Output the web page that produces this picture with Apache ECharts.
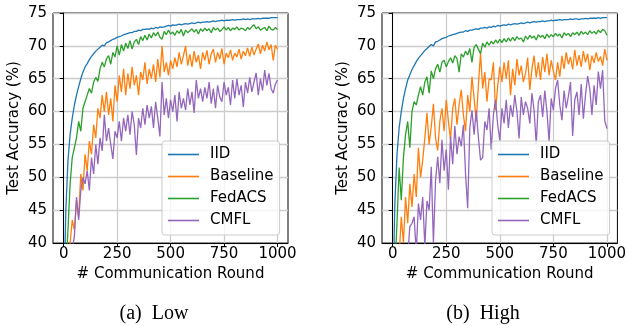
<!DOCTYPE html>
<html>
<head>
<meta charset="utf-8">
<script src="https://cdn.jsdelivr.net/npm/echarts@6/dist/echarts.min.js"></script>
<style>html,body{margin:0;padding:0;background:#fff;}#c{width:629px;height:326px;}</style>
</head>
<body>
<div id="c"></div>
<script>
var rounds = [0,10,20,30,40,50,60,70,80,90,100,110,120,130,140,150,160,170,180,190,200,210,220,230,240,250,260,270,280,290,300,310,320,330,340,350,360,370,380,390,400,410,420,430,440,450,460,470,480,490,500,510,520,530,540,550,560,570,580,590,600,610,620,630,640,650,660,670,680,690,700,710,720,730,740,750,760,770,780,790,800,810,820,830,840,850,860,870,880,890,900,910,920,930,940,950,960,970,980,990,1000];
var xTicks = [0,250,500,750,1000];
var seriesNames = ['IID','Baseline','FedACS','CMFL'];
var captions = ['(a)  Low','(b)  High'];

// Low
var iidLow = [30,45,52.5,56.5,59,61,62.5,63.8,65,66,66.8,67.3,67.9,68.4,68.8,69.2,69.5,69.8,70.1,70.0,70.5,70.6,70.8,71.0,71.1,71.3,71.4,71.5,71.7,71.8,71.9,72.0,72.0,72.2,72.2,72.4,72.3,72.5,72.5,72.6,72.5,72.7,72.6,72.8,72.7,72.9,72.8,72.9,73.0,73.1,73.0,73.2,73.1,73.2,73.3,73.2,73.3,73.4,73.3,73.4,73.5,73.4,73.5,73.6,73.5,73.6,73.6,73.7,73.6,73.7,73.8,73.7,73.8,73.8,73.9,73.8,73.9,73.9,73.9,74.0,73.9,74.0,74.0,74.0,74.1,74.0,74.1,74.0,74.1,74.1,74.1,74.2,74.1,74.2,74.2,74.2,74.2,74.3,74.3,74.3,74.3];
var baseLow = [25,30,36,40,43.5,42,46.5,44,50.5,48,53.5,51,55.5,53.5,58,56,60.5,59,62.5,60,63,59.5,62,58.5,64,61.5,65.5,63,66.5,62.5,65.8,63.5,66.8,64,65.5,62.5,66,64.8,67.5,64.2,66.5,65,67.2,64.5,68,65.2,70,66,67.5,65.5,67.8,66.5,68.2,66.8,69,67.2,68.5,70,67,68.7,66.8,69.2,67.5,68.6,66.5,69,67.8,69.3,67.2,68.8,69.5,67.5,69,68,69.6,67.2,68.9,68.2,69.4,67.8,68.9,68.3,69.5,68,69.2,68.5,69.7,68.4,69.8,68.6,69.5,70.3,68.8,70.1,69.2,70.6,69.4,70.2,67.8,70.1,69.5];
var fedLow = [30,36,42,49,53,54.5,56,58.5,57,60.5,61.5,62.5,63.5,62.8,64.5,65.2,64.6,66.5,67.5,66.8,68,68.5,67.2,69.0,68.3,70.0,68.6,70.2,69.2,70.4,69.6,70.8,69.5,70.6,71.0,70.2,71.4,70.8,71.6,70.9,71.8,71.2,72.0,71.5,72.1,71.3,71.0,72.2,71.7,72.4,71.8,72.1,71.6,72.3,71.9,72.5,71.5,72.4,72.0,72.3,72.6,72.1,72.5,71.8,72.6,72.2,72.7,72.3,72.6,72.0,72.8,72.4,72.7,72.2,72.5,72.9,72.4,72.8,72.3,72.7,72.5,72.9,72.4,72.7,72.6,72.3,72.8,72.5,72.9,73.2,72.6,72.9,72.4,72.6,72.8,72.3,73.0,72.5,72.4,72.8,72.5];
var cmflLow = [25,28,32,36,39,41,47,43.5,48,50,49,51,48,53,50.5,55,52,56,54,59.5,55.5,57.5,55,52.8,57,56,58.5,55.5,59,57,59.5,56.5,60,58,53.4,59,57.5,60.5,58,61,59,60.8,57.5,61.5,59,56.2,64.5,59.5,62,59,61.8,60,62.5,58.5,63,60.5,62,60.2,63.5,61,63,59.8,64.8,62,63.5,61.5,63.7,62,64.5,61.2,63.5,60.5,64,62.2,61.5,64.5,62.5,63.7,61,64.8,62,65,62.5,64,60.7,64.5,62.8,65.2,63,64.5,65.9,62.5,65,63.2,66.3,64,65.8,63.5,62.8,64.2,64.8];

// High
var iidHigh = [30,46,53.5,57.5,60,62,63.5,64.8,65.6,66.4,67.0,67.6,68.1,68.5,68.9,69.3,69.6,69.9,70.2,70.0,70.6,70.7,70.9,71.1,71.2,71.3,71.5,71.6,71.7,71.8,71.9,72.0,72.1,72.1,72.3,72.2,72.4,72.4,72.5,72.6,72.5,72.7,72.7,72.8,72.7,72.9,72.8,73.0,72.9,73.1,73.0,73.1,73.2,73.1,73.3,73.2,73.3,73.4,73.3,73.4,73.5,73.4,73.5,73.6,73.5,73.6,73.7,73.6,73.7,73.7,73.8,73.7,73.8,73.8,73.9,73.8,73.9,73.9,74.0,73.9,74.0,74.0,74.0,74.1,74.0,74.1,74.1,74.0,74.1,74.1,74.2,74.1,74.2,74.2,74.2,74.2,74.3,74.2,74.3,74.3,74.3];
var baseHigh = [22,27,33,38,44,40,47,43,49,45.5,50.5,47,54.5,50,52.6,56,59.8,55,57.7,61.2,56,54.1,58.5,60.5,57,61.8,58.5,55.7,60.5,62,58,61,63.3,59.5,57,62.5,60,65.3,62,58.5,64,68.9,63.5,66,61.5,65,64.8,67.5,60.2,63.8,66.8,64.5,67.5,65,67.8,62.5,66.5,64,68,65.5,67,64.5,65.8,68.2,63.3,66.5,68.5,65.2,67.5,64.8,68.3,66,68.8,65.5,67.8,66.2,64.8,67.5,65.3,68.5,66.5,69,67.2,68.3,66.4,69.4,67,68.6,66.8,69.2,67.5,68.8,66.3,68.5,67.4,69,67.6,68.4,67,69.5,67.8];
var fedHigh = [28,36,43,51.5,46.5,53,56.5,58.5,54.5,60,61.5,61,62.5,63.8,62.5,64.5,65.3,62.8,66.2,65,66.5,67.2,66,67.5,67.8,66.8,67.6,68.2,67.4,68.5,68.1,66,68.8,68.3,69.2,68.6,69.6,67.5,69.8,70.2,69.5,68.8,70.4,69.8,70.6,70.1,70.7,70.3,70.9,70.4,71.0,70.5,71.1,70.6,71.2,70.7,71.3,70.8,71.4,71.0,71.2,70.6,71.5,71.0,71.6,71.2,71.5,70.9,71.7,71.3,71.6,71.1,71.8,71.3,71.7,71.4,71.9,71.5,71.8,71.2,72.0,71.6,71.9,71.4,72.0,71.7,72.1,71.6,72.2,71.8,72.1,71.7,72.3,71.9,72.2,71.8,72.4,72.0,72.5,72.3,71.6];
var cmflHigh = [20,24,28,32,35,37,39,38,42.5,43,44,38.5,46,43.5,47,39.5,46.4,45,51.6,40,49.5,53.1,49.1,55.7,51,54.2,48.1,56.2,52,57.8,53.5,56.2,54.7,58,50.5,45.3,57.5,60.2,56.5,60.2,56.1,52.6,53,58.5,57.2,60.5,54.2,59.5,61.8,58,55.6,60.5,58.2,61.8,57.5,61,59.2,62.5,60,55.9,62.2,59.5,61.5,60.5,58.2,62.8,60.2,55,61.5,62.5,59.2,63.2,60,55.4,62,60.2,63.5,64.8,61,58.7,63.2,60.5,62.3,64.5,56.3,61.8,63,59.5,64.2,58.9,62.5,65.4,63.5,59.5,64,61,66.1,63.5,66.3,58.6,57.4];

var colors = ['#1f77b4','#ff7f0e','#2ca02c','#9467bd'];
var FONT = 'DejaVu Sans';
var FS = 15;

function pairs(vals){ return rounds.map(function(r,i){ return [r, vals[i]]; }); }

var grids = [
  {left:53, top:13, width:235, height:230},
  {left:382, top:13, width:236, height:230}
];

function xAx(gi){
  return {
    type:'value', gridIndex:gi, min:-50, max:1049,
    name:'# Communication Round', nameLocation:'middle', nameGap:20,
    nameTextStyle:{fontFamily:FONT, fontSize:FS, color:'#000'},
    axisLine:{show:true, lineStyle:{color:'#000', width:1}},
    axisTick:{show:true, inside:false, length:4, customValues:xTicks, lineStyle:{color:'#000', width:1}},
    axisLabel:{customValues:xTicks, fontFamily:FONT, fontSize:FS, color:'#000', margin:4,
      formatter:function(v){ return String(v); }},
    splitLine:{show:true, lineStyle:{color:'#cccccc', width:1.3}}
  };
}
function yAx(gi){
  return {
    type:'value', gridIndex:gi, min:40, max:75, interval:5,
    name:'Test Accuracy (%)', nameLocation:'middle', nameGap:31, nameRotate:90,
    nameTextStyle:{fontFamily:FONT, fontSize:FS, color:'#000'},
    axisLine:{show:true, lineStyle:{color:'#000', width:1}},
    axisTick:{show:true, inside:false, length:4, lineStyle:{color:'#000', width:1}},
    axisLabel:{fontFamily:FONT, fontSize:FS, color:'#000', margin:6},
    splitLine:{show:true, lineStyle:{color:'#cccccc', width:1.3}}
  };
}
function legendAt(left){
  return {
    left:left, top:141, orient:'vertical', itemGap:7, itemWidth:31, itemHeight:1.6, icon:'rect',
    padding:[6,6,7,6], backgroundColor:'rgba(255,255,255,0.8)', borderColor:'#cccccc', borderWidth:1, borderRadius:3,
    data:seriesNames, selectedMode:false, z:10,
    textStyle:{fontFamily:FONT, fontSize:FS, color:'#000', lineHeight:15, padding:[0,0,0,6]}
  };
}
function mk(name, vals, gi, ci){
  return {
    name:name, type:'line', xAxisIndex:gi, yAxisIndex:gi, data:pairs(vals),
    showSymbol:false, symbol:'none', clip:true, animation:false,
    lineStyle:{color:colors[ci], width:1.3}, itemStyle:{color:colors[ci]}
  };
}

var chart = echarts.init(document.getElementById('c'), null, {renderer:'canvas'});
chart.setOption({
  animation:false,
  grid: grids.map(function(g){ return Object.assign({show:true, borderColor:'#000', borderWidth:1, backgroundColor:'transparent'}, g); }),
  xAxis:[xAx(0), xAx(1)],
  yAxis:[yAx(0), yAx(1)],
  legend:[legendAt(162), legendAt(492)],
  series:[
    mk('IID', iidLow, 0, 0), mk('Baseline', baseLow, 0, 1), mk('FedACS', fedLow, 0, 2), mk('CMFL', cmflLow, 0, 3),
    mk('IID', iidHigh, 1, 0), mk('Baseline', baseHigh, 1, 1), mk('FedACS', fedHigh, 1, 2), mk('CMFL', cmflHigh, 1, 3)
  ],
  graphic:[
    {type:'text', x:154, y:314, style:{text:captions[0], textAlign:'center', textVerticalAlign:'middle', fontSize:20, fontFamily:'Liberation Serif', fill:'#000'}},
    {type:'text', x:483, y:314, style:{text:captions[1], textAlign:'center', textVerticalAlign:'middle', fontSize:20, fontFamily:'Liberation Serif', fill:'#000'}}
  ]
});
</script>
</body>
</html>
